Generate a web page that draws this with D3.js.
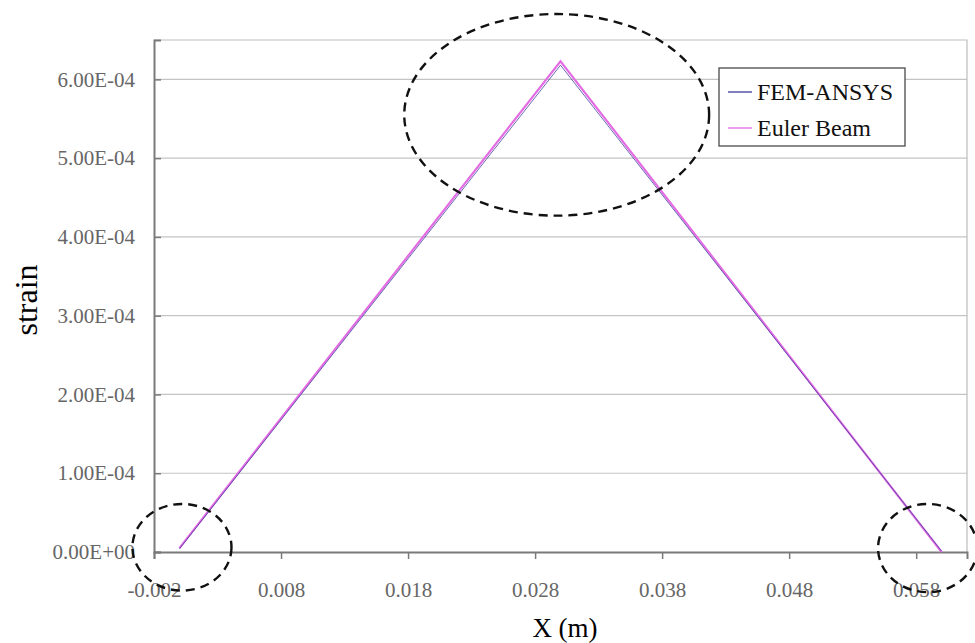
<!DOCTYPE html>
<html>
<head>
<meta charset="utf-8">
<script src="https://cdn.jsdelivr.net/npm/d3@7"></script>
<style>
  body { margin: 0; background: #fff; }
  svg text { font-family: "Liberation Serif", "DejaVu Serif", serif; }
</style>
</head>
<body>
<svg id="chart" width="975" height="643"></svg>
<script>
// x positions along the beam (m)
const femX = [0, 0.03, 0.06];
const femStrain = [4e-6, 6.18e-4, 1e-6];
const eulerX = [0, 0.03, 0.06];
const eulerStrain = [5e-6, 6.23e-4, 0];

const xTicks = [-0.002, 0.008, 0.018, 0.028, 0.038, 0.048, 0.058];
const yTicks = [0, 1e-4, 2e-4, 3e-4, 4e-4, 5e-4, 6e-4];

const seriesNames = ["FEM-ANSYS", "Euler Beam"];
const seriesColors = ["#3b3b9c", "#e36be3"];

// dashed highlight ellipses, in data units: [cx, cy, rx, ry]
const highlights = [
  [0.0297, 5.55e-4, 0.0120, 1.28e-4],
  [0.0002, 6e-6, 0.0039, 0.55e-4],
  [0.0589, 5e-6, 0.0039, 0.56e-4]
];

const svg = d3.select("#chart");
const margin = {left: 154, right: 8, top: 40, bottom: 91};
const W = 975, H = 643;

const x = d3.scaleLinear().domain([-0.002, 0.062]).range([margin.left, W - margin.right]);
const y = d3.scaleLinear().domain([0, 6.5e-4]).range([H - margin.bottom, margin.top]);

const sci = v => {
  if (v === 0) return "0.00E+00";
  const [m, e] = v.toExponential(2).split("e");
  const n = +e;
  return m + "E" + (n < 0 ? "-" : "+") + String(Math.abs(n)).padStart(2, "0");
};

// grid
svg.append("g")
  .selectAll("line")
  .data(yTicks.filter(d => d > 0))
  .enter().append("line")
    .attr("x1", x.range()[0]).attr("x2", x.range()[1])
    .attr("y1", d => y(d)).attr("y2", d => y(d))
    .attr("stroke", "#c4c4c4").attr("stroke-width", 1.2);

// plot frame (top/right)
svg.append("path")
  .attr("d", `M${x.range()[0]},${y.range()[1]}H${x.range()[1]}V${y.range()[0]}`)
  .attr("fill", "none").attr("stroke", "#bdbdbd").attr("stroke-width", 1.2);

// axes
const xAxis = svg.append("g")
  .attr("transform", `translate(0,${y(0)})`)
  .call(d3.axisBottom(x).tickValues(xTicks).tickSize(7).tickPadding(23)
    .tickFormat(d => d3.format(".3f")(d).replace("\u2212", "-")));
const yAxis = svg.append("g")
  .attr("transform", `translate(${x(-0.002)},0)`)
  .call(d3.axisLeft(y).tickValues(yTicks).tickSize(-7).tickPadding(19).tickFormat(sci));

[xAxis, yAxis].forEach(g => {
  g.select(".domain").attr("stroke", "#7a7a7a").attr("stroke-width", 2);
  g.selectAll(".tick line").attr("stroke", "#7a7a7a").attr("stroke-width", 1.5);
  g.selectAll(".tick text")
    .attr("fill", "#666")
    .style("font-size", "21px")
    .style("font-family", "'Liberation Serif', serif");
});

// lines
const line = d3.line().x(d => x(d[0])).y(d => y(d[1]));
const series = [
  d3.zip(femX, femStrain),
  d3.zip(eulerX, eulerStrain)
];
svg.append("path").datum(series[1])
  .attr("d", line).attr("fill", "none")
  .attr("stroke", seriesColors[1]).attr("stroke-width", 2.2);
svg.append("path").datum(series[0])
  .attr("d", line).attr("fill", "none")
  .attr("stroke", seriesColors[0]).attr("stroke-width", 1).attr("stroke-opacity", 0.75);

// axis titles
svg.append("text")
  .attr("x", 565).attr("y", 637)
  .attr("text-anchor", "middle")
  .style("font-size", "27px")
  .text("X (m)");
svg.append("text")
  .attr("transform", "translate(37,300) rotate(-90)")
  .attr("text-anchor", "middle")
  .style("font-size", "32px")
  .text("strain");

// legend
const lg = svg.append("g").attr("transform", "translate(719,68)");
lg.append("rect")
  .attr("width", 186).attr("height", 78)
  .attr("fill", "#fff").attr("stroke", "#4a4a4a").attr("stroke-width", 1.3);
seriesNames.forEach((name, i) => {
  const yy = 24 + i * 36;
  lg.append("line")
    .attr("x1", 9).attr("x2", 33).attr("y1", yy).attr("y2", yy)
    .attr("stroke", seriesColors[i]).attr("stroke-width", 1.3);
  lg.append("text")
    .attr("x", 38).attr("y", yy + 8)
    .style("font-size", "24px")
    .attr("fill", "#111")
    .text(name);
});

// dashed highlight ellipses
svg.append("g")
  .selectAll("ellipse")
  .data(highlights)
  .enter().append("ellipse")
    .attr("cx", d => x(d[0]))
    .attr("cy", d => y(d[1]))
    .attr("rx", d => x(d[0] + d[2]) - x(d[0]))
    .attr("ry", d => y(0) - y(d[3]))
    .attr("fill", "none")
    .attr("stroke", "#111")
    .attr("stroke-width", 2.4)
    .attr("stroke-dasharray", "9,6");
</script>
</body>
</html>
